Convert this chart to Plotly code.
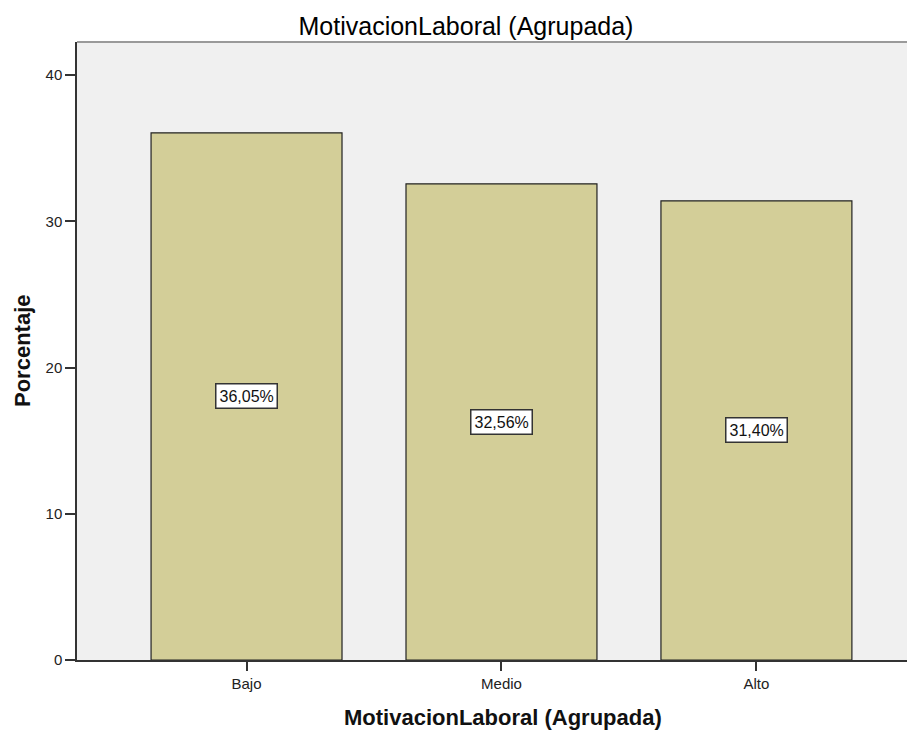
import plotly.graph_objects as go

categories = ["Bajo", "Medio", "Alto"]
values = [36.05, 32.56, 31.40]
labels = ["36,05%", "32,56%", "31,40%"]
y_ticks = [0, 10, 20, 30, 40]

# page body has an 8px margin, so the figure is drawn 8px right/down
W, H = 907, 723
L, R, T, B = 69, 0, 34, 71
PH = H - T - B
PW = W - L - R
FONT = "Liberation Sans, Arial, sans-serif"

fig = go.Figure()
fig.add_trace(go.Bar(
    x=categories, y=values, width=0.749,
    marker=dict(color="#D3CE98", line=dict(color="#222222", width=1.2)),
    hoverinfo="skip",
))

for c, v, t in zip(categories, values, labels):
    fig.add_annotation(
        x=c, y=v / 2, text=t, showarrow=False,
        font=dict(family=FONT, size=16, color="#111"),
        bgcolor="white", bordercolor="#333", borderwidth=1.5, borderpad=3,
    )

# axis titles
fig.add_annotation(
    xref="paper", yref="paper", x=(495 - L) / PW, y=0, yshift=-(709 - (T + PH)),
    text="<b>MotivacionLaboral (Agrupada)</b>", showarrow=False,
    xanchor="center", yanchor="middle",
    font=dict(family=FONT, size=22, color="#111"),
)
fig.add_annotation(
    xref="paper", yref="paper", x=0, xshift=14 - L, y=(T + PH - 343) / PH,
    text="<b>Porcentaje</b>", showarrow=False, textangle=-90,
    xanchor="center", yanchor="middle",
    font=dict(family=FONT, size=22, color="#111"),
)

# top frame line (gray)
fig.add_shape(type="line", xref="paper", yref="paper", x0=0, x1=1, y0=1, y1=1,
              line=dict(color="#9a9a9a", width=2))

fig.update_layout(
    width=W, height=H,
    margin=dict(l=L, r=R, t=T, b=B),
    paper_bgcolor="white",
    plot_bgcolor="#F0F0F0",
    showlegend=False,
    title=dict(
        text="MotivacionLaboral (Agrupada)",
        x=458 / W, xanchor="center", xref="container",
        y=1 - 18 / H, yanchor="middle", yref="container",
        font=dict(family=FONT, size=25, color="#000"),
    ),
    font=dict(family=FONT, color="#222"),
)

fig.update_xaxes(
    range=[-0.665, 2.622],
    showline=True, linecolor="#333", linewidth=1.5,
    ticks="outside", ticklen=9, tickcolor="#333", tickwidth=1.5,
    tickfont=dict(family=FONT, size=15, color="#222"),
    showgrid=False, zeroline=False,
)
fig.update_yaxes(
    range=[0, 42.26], tickvals=y_ticks,
    showline=True, linecolor="#333", linewidth=1.5,
    ticks="outside", ticklen=10, tickcolor="#333", tickwidth=1.5,
    tickfont=dict(family=FONT, size=15, color="#222"),
    showgrid=False, zeroline=False,
)

fig.write_html("out.html")
